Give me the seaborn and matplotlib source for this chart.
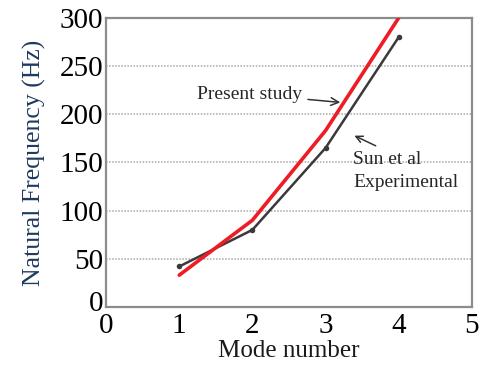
import matplotlib
matplotlib.use("Agg")
import matplotlib.pyplot as plt
import matplotlib.transforms as mtransforms
import seaborn as sns
import pandas as pd

# Natural frequencies per vibration mode
modes = [1, 2, 3, 4]
present_study = [33, 90, 183, 300]
sun_experimental = [42, 80, 165, 280]
x_ticks = [0, 1, 2, 3, 4, 5]
y_ticks = [0, 50, 100, 150, 200, 250, 300]

sns.set_theme(style="white")
plt.rcParams["font.family"] = ["Liberation Serif", "DejaVu Serif"]

df = pd.DataFrame({
    "mode": modes * 2,
    "freq": present_study + sun_experimental,
    "source": ["Present study"] * 4 + ["Sun et al Experimental"] * 4,
})

fig = plt.figure(figsize=(4.8, 3.65), dpi=100)
ax = fig.add_axes([0.221, 0.159, 0.762, 0.792])

sns.lineplot(data=df[df.source == "Sun et al Experimental"], x="mode", y="freq",
             color="#3a3a3a", linewidth=1.8, marker="o", markersize=4,
             markeredgewidth=0, ax=ax, legend=False, zorder=3)
sns.lineplot(data=df[df.source == "Present study"], x="mode", y="freq",
             color="#ee1c25", linewidth=2.6, ax=ax, legend=False, zorder=4)

ax.set_xlim(0, 5)
ax.set_ylim(0, 300)
ax.set_xticks(x_ticks)
ax.set_yticks(y_ticks)
ax.tick_params(axis="both", direction="in", length=3, width=1, color="#808080",
               labelsize=21, labelcolor="black")
ax.tick_params(axis="x", pad=4)
ax.tick_params(axis="y", pad=2)
for s in ax.spines.values():
    s.set_color("#8c8c8c")
    s.set_linewidth(1.6)

# lift the y-axis zero label a little so it clears the x-axis zero
fig.canvas.draw()
ylab0 = ax.get_yticklabels()[0]
ylab0.set_transform(ylab0.get_transform() +
                    mtransforms.ScaledTranslation(0, 6 / 100, fig.dpi_scale_trans))

for v in y_ticks[1:-1]:
    ax.axhline(v, color="#a8a8a8", linestyle=(0, (1.0, 1.0)), linewidth=1.1, zorder=1)

ax.set_xlabel("Mode number", fontsize=18, color="#1a1a1a", labelpad=1)
ax.set_ylabel("Natural Frequency (Hz)", fontsize=18.5, color="#1f3a5f", labelpad=10)

ax.annotate("Present study", xy=(3.24, 212), xytext=(1.24, 221),
            fontsize=14, va="center", ha="left",
            arrowprops=dict(arrowstyle="->", color="#333333", lw=1.1))
ax.annotate("", xy=(3.36, 179), xytext=(3.72, 166),
            arrowprops=dict(arrowstyle="->", color="#333333", lw=1.1))
ax.text(3.38, 141, "Sun et al\nExperimental", fontsize=14, va="center", ha="left",
        linespacing=1.45)

fig.savefig("out.png", dpi=100)
